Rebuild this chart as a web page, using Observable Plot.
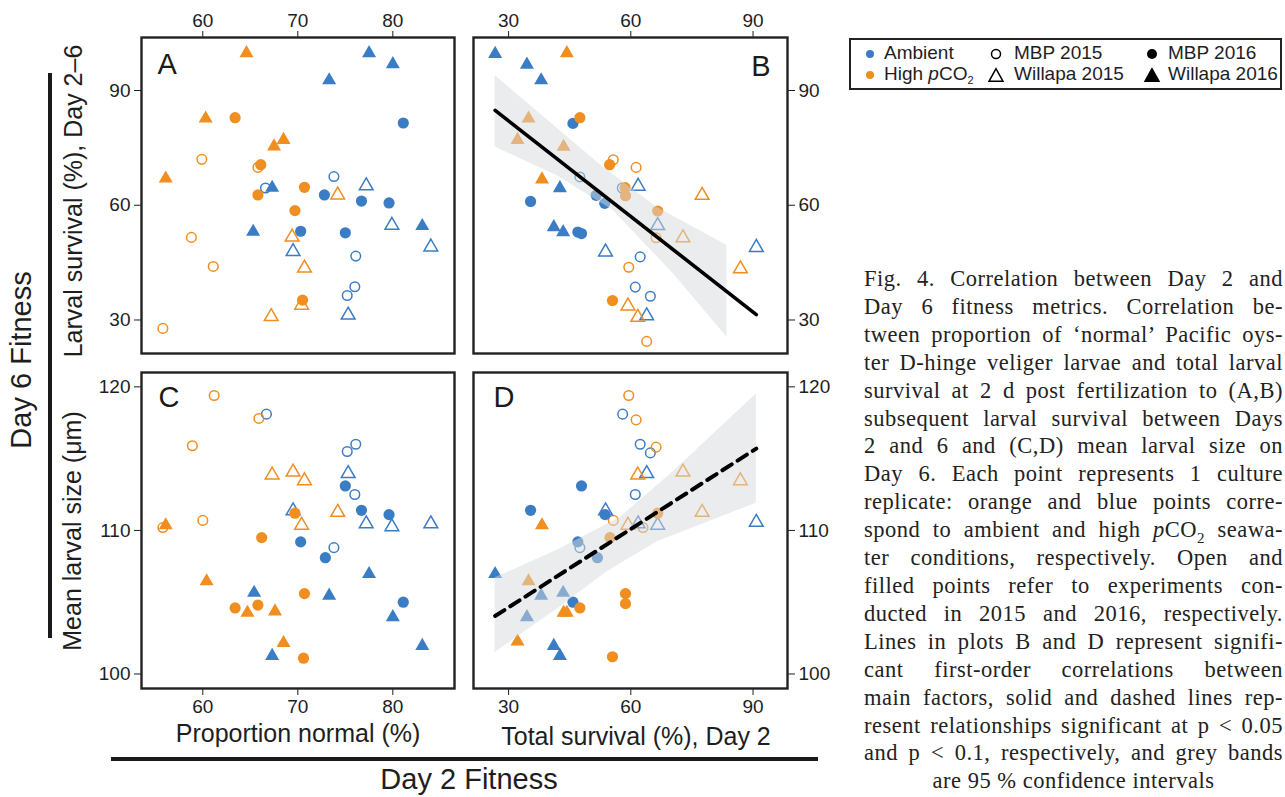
<!DOCTYPE html>
<html>
<head>
<meta charset="utf-8">
<script src="https://cdn.jsdelivr.net/npm/d3@7"></script>
<script src="https://cdn.jsdelivr.net/npm/@observablehq/plot@0.6"></script>
<style>
  body { margin: 0; background: #fff; }
  #page { position: relative; width: 1285px; height: 797px; overflow: hidden; background: #fff;
          font-family: "Liberation Sans", Arial, Helvetica, sans-serif; color: #1e1e1e; }
  .abs { position: absolute; }
  .rot { position: absolute; transform: translate(-50%, -50%) rotate(-90deg); white-space: nowrap; }
  .ctr { position: absolute; transform: translate(-50%, -50%); white-space: nowrap; }
  #legend { position: absolute; left: 849px; top: 38px; width: 429px; height: 48px; border: 2px solid #222; }
  .lg { position: absolute; font-size: 19px; line-height: 20px; white-space: nowrap; }
  .lg svg { position: absolute; overflow: visible; }
  #caption { position: absolute; left: 864px; top: 265px; width: 419px;
             font-family: "Liberation Serif", "Times New Roman", serif; font-size: 22.5px; line-height: 27.9px;
             letter-spacing: 0.5px; color: #222; }
  #caption div { text-align: justify; text-align-last: justify; white-space: nowrap; }
  #caption div.last { text-align: center; text-align-last: center; }
</style>
</head>
<body>
<div id="page"></div>
<script>
// ---------- data ----------
const blue = "#3b7dc5";
const orange = "#f08e1f";
const treatments = ["Ambient", "High pCO2"];
const cohorts = ["MBP 2015", "MBP 2016", "Willapa 2015", "Willapa 2016"];

// one entry per culture replicate (same order in every panel array)
const treatment = [
  "Ambient","Ambient","Ambient","Ambient","Ambient",
  "Ambient","Ambient","Ambient","Ambient","Ambient","Ambient",
  "Ambient","Ambient","Ambient","Ambient","Ambient",
  "Ambient","Ambient","Ambient","Ambient","Ambient","Ambient",
  "High pCO2","High pCO2","High pCO2","High pCO2","High pCO2",
  "High pCO2","High pCO2","High pCO2","High pCO2","High pCO2","High pCO2",
  "High pCO2","High pCO2","High pCO2","High pCO2","High pCO2",
  "High pCO2","High pCO2","High pCO2","High pCO2","High pCO2"
];
const cohort = [
  "MBP 2015","MBP 2015","MBP 2015","MBP 2015","MBP 2015",
  "MBP 2016","MBP 2016","MBP 2016","MBP 2016","MBP 2016","MBP 2016",
  "Willapa 2015","Willapa 2015","Willapa 2015","Willapa 2015","Willapa 2015",
  "Willapa 2016","Willapa 2016","Willapa 2016","Willapa 2016","Willapa 2016","Willapa 2016",
  "MBP 2015","MBP 2015","MBP 2015","MBP 2015","MBP 2015",
  "MBP 2016","MBP 2016","MBP 2016","MBP 2016","MBP 2016","MBP 2016",
  "Willapa 2015","Willapa 2015","Willapa 2015","Willapa 2015","Willapa 2015",
  "Willapa 2016","Willapa 2016","Willapa 2016","Willapa 2016","Willapa 2016"
];

// Panel A: proportion normal (%) vs larval survival (%), Day 2-6
const propNormalA = [66.6,73.8,76.1,76.0,75.2, 81.1,72.8,76.7,79.6,70.3,75.0, 77.2,79.9,84.0,69.5,75.3, 77.5,80.0,73.3,67.3,65.3,83.1,
                     59.9,65.8,58.8,61.1,55.8, 63.4,66.1,65.8,70.7,69.7,70.5, 74.2,69.4,70.7,67.2,70.4, 64.6,60.3,67.5,68.5,56.1];
const larvalSurvA = [64.5,67.5,46.7,38.7,36.4, 81.5,62.7,61.1,60.6,53.2,52.8, 65.6,55.3,49.6,48.4,31.8, 100.3,97.4,93.2,65.1,53.6,55.1,
                     72.0,69.9,51.6,44.0,27.8, 82.9,70.6,62.7,64.7,58.6,35.2, 63.2,52.2,44.1,31.4,34.4, 100.3,83.2,75.9,77.6,67.5];
// Panel B: total survival (%), Day 2 vs larval survival (%), Day 2-6
const totalSurvB = [47.5,57.9,62.3,61.1,64.8, 45.8,35.4,47.0,47.9,51.5,53.6, 61.8,66.6,90.8,53.8,63.9, 26.7,34.5,38.0,42.6,41.1,43.4,
                    55.7,61.3,66.2,59.5,63.9, 47.5,54.8,58.6,58.7,66.6,55.5, 77.5,72.8,86.9,59.3,61.7, 44.3,38.2,34.9,32.2,43.5];
const larvalSurvB = [67.4,64.5,46.5,38.6,36.2, 81.4,61.0,53.0,52.6,62.6,60.5, 65.5,55.2,49.5,48.3,31.6, 100.1,97.3,93.2,65.0,54.8,53.5,
                     71.9,69.9,51.5,43.8,24.4, 82.9,70.6,64.6,62.5,58.5,35.1, 63.1,52.0,43.9,34.2,31.2, 100.3,67.3,83.2,77.6,75.8];
// Panel C: proportion normal (%) vs mean larval size (µm)
const propNormalC = [66.7,76.1,75.2,76.0,73.8, 75.0,76.7,79.6,70.3,72.9,81.1, 75.3,69.5,77.2,79.9,84.0, 65.4,73.3,77.5,80.0,83.1,67.3,
                     61.2,65.9,58.9,60.0,55.8, 69.7,66.2,70.7,63.4,65.8,70.6, 67.3,69.5,70.7,74.2,70.4, 56.1,60.4,64.7,67.6,68.5];
const sizeC = [118.1,116.0,115.5,112.5,108.8, 113.1,111.4,111.1,109.2,108.1,105.0, 114.1,111.5,110.6,110.4,110.6, 105.8,105.6,107.1,104.1,102.1,101.4,
               119.4,117.8,115.9,110.7,110.2, 111.2,109.5,105.6,104.6,104.8,101.1, 114.0,114.2,113.6,111.4,110.5, 110.5,106.6,104.4,104.5,102.3];
// Panel D: total survival (%), Day 2 vs mean larval size (µm)
const totalSurvD = [58.0,62.3,64.8,61.1,47.5, 47.9,35.4,53.7,47.0,51.8,45.8, 63.9,53.8,90.8,66.6,61.8, 26.7,34.5,38.0,43.4,41.1,42.6,
                    59.5,61.3,66.2,55.7,63.0, 66.6,54.9,58.7,58.7,47.5,55.5, 61.7,72.8,86.9,77.5,59.3, 38.2,34.9,43.5,44.3,32.2];
const sizeD = [118.1,116.0,115.4,112.5,108.8, 113.1,111.4,111.1,109.2,108.1,105.0, 114.1,111.5,110.7,110.5,110.6, 107.1,104.1,105.6,105.8,102.1,101.4,
               119.4,117.7,115.8,110.7,110.2, 111.2,109.5,105.6,104.9,104.6,101.2, 114.0,114.2,113.6,111.4,110.5, 110.5,106.6,104.4,104.4,102.4];

// fitted lines and 95% confidence bands
const fitB_x = [26.7, 90.8];
const fitB_y = [84.8, 31.4];
const bandB_upperX = [26.7, 37.7, 53.3, 66.4, 83.6];
const bandB_upperY = [93.9, 83.9, 69.9, 59.5, 49.5];
const bandB_lowerX = [26.7, 41.8, 55.7, 70.5, 83.6];
const bandB_lowerY = [75.2, 67.8, 58.6, 42.0, 25.5];
const fitD_x = [26.7, 90.8];
const fitD_y = [104.04, 115.7];
const bandD_upperX = [26.7, 41.8, 57.4, 70.5, 90.8];
const bandD_upperY = [106.7, 108.6, 110.9, 114.1, 119.5];
const bandD_lowerX = [26.7, 41.8, 54.1, 66.4, 90.8];
const bandD_lowerY = [101.5, 104.5, 107.1, 109.2, 111.9];

// tick values
const propTicks = [60, 70, 80];
const totalTicks = [30, 60, 90];
const survTicks = [30, 60, 90];
const sizeTicks = [100, 110, 120];

// ---------- drawing ----------
const page = document.getElementById("page");
const FONT = "'Liberation Sans', Arial, Helvetica, sans-serif";

function makePanel(cfg) {
  const rows = cfg.xs.map((x, i) => ({x, y: cfg.ys[i], trt: treatment[i], coh: cohort[i]}));
  const open = d => d.coh.endsWith("2015");
  const tri = d => d.coh.startsWith("Willapa");
  const marks = [
    Plot.dot(rows.filter(d => open(d) && !tri(d)), {x: "x", y: "y", r: 4.8, symbol: "circle", stroke: "trt", fill: "none", strokeWidth: 1.5}),
    Plot.dot(rows.filter(d => open(d) && tri(d)), {x: "x", y: "y", r: 5.1, symbol: "triangle", stroke: "trt", fill: "none", strokeWidth: 1.5, dy: 2}),
    Plot.dot(rows.filter(d => !open(d) && !tri(d)), {x: "x", y: "y", r: 5.6, symbol: "circle", fill: "trt"}),
    Plot.dot(rows.filter(d => !open(d) && tri(d)), {x: "x", y: "y", r: 5.2, symbol: "triangle", fill: "trt", dy: 2})
  ];
  if (cfg.band) {
    const b = cfg.band;
    const bandRows = b.ux.map((_, i) => ({x1: b.ux[i], y1: b.uy[i], x2: b.lx[i], y2: b.ly[i]}));
    marks.push(Plot.area(bandRows, {x1: "x1", y1: "y1", x2: "x2", y2: "y2", fill: "rgb(214,217,220)", fillOpacity: 0.5}));
  }
  if (cfg.fit) {
    const lineRows = cfg.fit.x.map((x, i) => ({x, y: cfg.fit.y[i]}));
    marks.push(Plot.line(lineRows, {x: "x", y: "y", stroke: "#000", strokeWidth: cfg.fit.width, strokeDasharray: cfg.fit.dash}));
  }
  marks.push(Plot.frame({stroke: "#222", strokeWidth: 2.4}));
  marks.push(Plot.text([cfg.letter], {
    frameAnchor: cfg.letterAnchor, text: d => d, dx: cfg.ldx, dy: cfg.ldy,
    textAnchor: cfg.letterAnchor.endsWith("right") ? "end" : "start",
    lineAnchor: "top", fontSize: 29, fill: "#1a1a1a"
  }));
  const svg = Plot.plot({
    width: cfg.width, height: cfg.height,
    marginLeft: cfg.mL, marginRight: cfg.mR, marginTop: cfg.mT, marginBottom: cfg.mB,
    x: {domain: cfg.xDomain, ticks: cfg.xTicks, axis: cfg.xAxis, tickSize: 7, tickPadding: 4, label: null},
    y: {domain: cfg.yDomain, ticks: cfg.yTicks, axis: cfg.yAxis, tickSize: 7, tickPadding: 4, label: null},
    color: {domain: treatments, range: [blue, orange]},
    style: {fontFamily: FONT, fontSize: "19px", color: "#1e1e1e", background: "transparent", overflow: "visible"},
    marks
  });
  const holder = document.createElement("div");
  holder.className = "abs";
  holder.style.left = cfg.left + "px";
  holder.style.top = cfg.top + "px";
  holder.style.width = cfg.width + "px";
  holder.style.height = cfg.height + "px";
  svg.style.maxWidth = "none";
  holder.appendChild(svg);
  page.appendChild(holder);
}

const survDomain = [21.24, 103.86];
const sizeDomain = [98.99, 121.0];
const propDomain = [53.55, 86.49];
const totalDomain = [21.39, 98.46];

makePanel({letter: "A", letterAnchor: "top-left", ldx: 16, ldy: 16, xs: propNormalA, ys: larvalSurvA,
  xDomain: propDomain, yDomain: survDomain, xTicks: propTicks, yTicks: survTicks, xAxis: "top", yAxis: "left",
  left: 0, top: 0, width: 463, height: 362, mL: 141, mT: 37, mR: 9, mB: 9});
makePanel({letter: "B", letterAnchor: "top-right", ldx: -17, ldy: 18, xs: totalSurvB, ys: larvalSurvB,
  xDomain: totalDomain, yDomain: survDomain, xTicks: totalTicks, yTicks: survTicks, xAxis: "top", yAxis: "right",
  left: 463, top: 0, width: 380, height: 362, mL: 10, mT: 37, mR: 56, mB: 9,
  band: {ux: bandB_upperX, uy: bandB_upperY, lx: bandB_lowerX, ly: bandB_lowerY},
  fit: {x: fitB_x, y: fitB_y, width: 3.6, dash: null}});
makePanel({letter: "C", letterAnchor: "top-left", ldx: 17, ldy: 14, xs: propNormalC, ys: sizeC,
  xDomain: propDomain, yDomain: sizeDomain, xTicks: propTicks, yTicks: sizeTicks, xAxis: "bottom", yAxis: "left",
  left: 0, top: 362, width: 463, height: 435, mL: 141, mT: 10, mR: 9, mB: 109});
makePanel({letter: "D", letterAnchor: "top-left", ldx: 20, ldy: 14, xs: totalSurvD, ys: sizeD,
  xDomain: totalDomain, yDomain: sizeDomain, xTicks: totalTicks, yTicks: sizeTicks, xAxis: "bottom", yAxis: "right",
  left: 463, top: 362, width: 380, height: 435, mL: 10, mT: 10, mR: 56, mB: 109,
  band: {ux: bandD_upperX, uy: bandD_upperY, lx: bandD_lowerX, ly: bandD_lowerY},
  fit: {x: fitD_x, y: fitD_y, width: 4, dash: "11,7"}});

// ---------- axis titles, group labels ----------
function addText(cls, txt, x, y, size, html) {
  const d = document.createElement("div");
  d.className = cls;
  d.style.left = x + "px"; d.style.top = y + "px"; d.style.fontSize = size + "px";
  if (html) d.innerHTML = txt; else d.textContent = txt;
  page.appendChild(d);
  return d;
}
addText("rot", "Larval survival (%), Day 2–6", 73, 201, 25);
addText("rot", "Mean larval size (μm)", 72, 531, 25);
addText("rot", "Day 6 Fitness", 21, 360, 29);
addText("ctr", "Proportion normal (%)", 298, 733, 25);
addText("ctr", "Total survival (%), Day 2", 636, 736, 25);
addText("ctr", "Day 2 Fitness", 469, 779, 29);

const vline = document.createElement("div");
vline.className = "abs";
Object.assign(vline.style, {left: "48px", top: "73px", width: "4px", height: "565px", background: "#1a1a1a"});
page.appendChild(vline);
const hline = document.createElement("div");
hline.className = "abs";
Object.assign(hline.style, {left: "111px", top: "757px", width: "707px", height: "4px", background: "#1a1a1a"});
page.appendChild(hline);

// ---------- legend ----------
const legend = document.createElement("div");
legend.id = "legend";
page.appendChild(legend);
function tri(size, filled, color) {
  const h = size * 0.9;
  return `<polygon points="0,${-h/2} ${-size/2},${h/2} ${size/2},${h/2}" fill="${filled ? color : "none"}" stroke="${color}" stroke-width="1.5"/>`;
}
const legendItems = [
  {mx: 19, my: 14, shape: `<circle r="4" fill="${blue}"/>`, tx: 33, label: treatments[0]},
  {mx: 19, my: 35, shape: `<circle r="4" fill="${orange}"/>`, tx: 33, label: "High <i>p</i>CO<sub style='font-size:11px;vertical-align:-4px'>2</sub>"},
  {mx: 145, my: 14, shape: `<circle r="4.5" fill="none" stroke="#000" stroke-width="1.5"/>`, tx: 163, label: cohorts[0]},
  {mx: 145, my: 35, shape: tri(14, false, "#000"), tx: 163, label: cohorts[2]},
  {mx: 301, my: 14, shape: `<circle r="5" fill="#000"/>`, tx: 317, label: cohorts[1]},
  {mx: 301, my: 35, shape: tri(14, true, "#000"), tx: 317, label: cohorts[3]}
];
for (const it of legendItems) {
  const s = document.createElementNS("http://www.w3.org/2000/svg", "svg");
  s.setAttribute("width", "1"); s.setAttribute("height", "1");
  s.style.left = it.mx + "px"; s.style.top = it.my + "px";
  s.style.position = "absolute"; s.style.overflow = "visible";
  s.innerHTML = it.shape;
  legend.appendChild(s);
  const t = document.createElement("div");
  t.className = "lg";
  t.style.left = it.tx + "px"; t.style.top = (it.my - 11) + "px";
  t.innerHTML = it.label;
  legend.appendChild(t);
}

// ---------- caption ----------
const captionLines = [
  "Fig. 4. Correlation between Day 2 and",
  "Day 6 fitness metrics. Correlation be-",
  "tween proportion of ‘normal’ Pacific oys-",
  "ter D-hinge veliger larvae and total larval",
  "survival at 2 d post fertilization to (A,B)",
  "subsequent larval survival between Days",
  "2 and 6 and (C,D) mean larval size on",
  "Day 6. Each point represents 1 culture",
  "replicate: orange and blue points corre-",
  "spond to ambient and high <i>p</i>CO<sub style='font-size:15px;line-height:0'>2</sub> seawa-",
  "ter conditions, respectively. Open and",
  "filled points refer to experiments con-",
  "ducted in 2015 and 2016, respectively.",
  "Lines in plots B and D represent signifi-",
  "cant first-order correlations between",
  "main factors, solid and dashed lines rep-",
  "resent relationships significant at p &lt; 0.05",
  "and p &lt; 0.1, respectively, and grey bands",
  "are 95 % confidence intervals"
];
const cap = document.createElement("div");
cap.id = "caption";
captionLines.forEach((ln, i) => {
  const d = document.createElement("div");
  if (i === captionLines.length - 1) d.className = "last";
  d.innerHTML = ln;
  cap.appendChild(d);
});
page.appendChild(cap);
</script>
</body>
</html>
